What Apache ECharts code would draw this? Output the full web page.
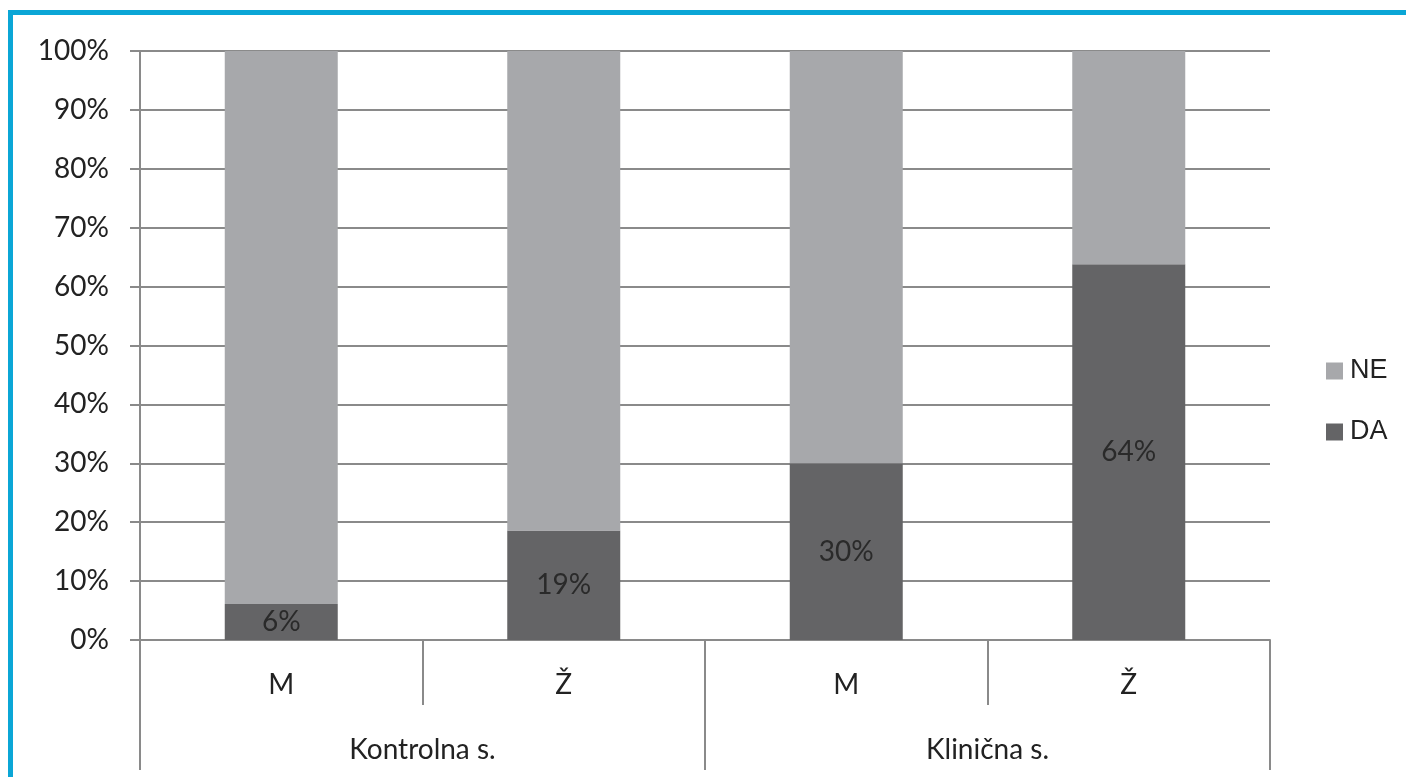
<!DOCTYPE html>
<html><head><meta charset="utf-8">
<script src="https://cdn.jsdelivr.net/npm/echarts@6/dist/echarts.min.js"></script>
<style>html,body{margin:0;padding:0;background:#fff}#c{width:1406px;height:777px}</style>
</head><body><div id="c"></div>
<script>
const subCategories = ['M', 'Ž', 'M', 'Ž'];
const groupCategories = ['Kontrolna s.', 'Klinična s.'];
const daValues = [6.1, 18.6, 30, 63.8];
const neValues = [93.9, 81.4, 70, 36.2];
const yTicks = [0, 10, 20, 30, 40, 50, 60, 70, 80, 90, 100];

const FONT = 'Lato';
const chart = echarts.init(document.getElementById('c'));
chart.setOption({
  animation: false,
  backgroundColor: '#fff',
  textStyle: { fontFamily: FONT },
  graphic: [
    { type: 'rect', shape: { x: 8, y: 10, width: 5, height: 767 }, style: { fill: '#0ba6d6' } },
    { type: 'rect', shape: { x: 8, y: 10, width: 1398, height: 5 }, style: { fill: '#0ba6d6' } }
  ],
  legend: {
    orient: 'vertical', left: 1321, top: 352, itemGap: 33,
    itemWidth: 17, itemHeight: 17, icon: 'rect',
    data: ['NE', 'DA'],
    textStyle: { fontFamily: 'Liberation Sans', fontSize: 27, lineHeight: 28, color: '#222', padding: [0, 0, 0, 2] }
  },
  grid: { left: 140, right: 136, top: 51, bottom: 137, containLabel: false },
  xAxis: [
    {
      type: 'category', data: subCategories, position: 'bottom',
      axisLine: { show: true, lineStyle: { color: '#8a8a8a', width: 2 } },
      axisTick: { show: true, length: 65, interval: 0, lineStyle: { color: '#8a8a8a', width: 2 } },
      axisLabel: { margin: 31, fontFamily: FONT, fontSize: 28, color: '#222' }
    },
    {
      type: 'category', data: groupCategories, position: 'bottom',
      axisLine: { show: false },
      axisTick: { show: true, length: 130, interval: 0, lineStyle: { color: '#8a8a8a', width: 2 } },
      axisLabel: { margin: 96, fontFamily: FONT, fontSize: 28, color: '#222' }
    }
  ],
  yAxis: {
    type: 'value', min: 0, max: 100, interval: 10,
    axisLine: { show: true, lineStyle: { color: '#8a8a8a', width: 2 } },
    axisTick: { show: true, length: 10, lineStyle: { color: '#8a8a8a', width: 2 } },
    axisLabel: { margin: 31, fontFamily: FONT, fontSize: 28, color: '#222',
      formatter: v => yTicks.includes(v) ? v + '%' : '' },
    splitLine: { show: true, lineStyle: { color: '#8a8a8a', width: 2 } }
  },
  series: [
    {
      name: 'DA', type: 'bar', stack: 's', xAxisIndex: 0, barWidth: '40%',
      data: daValues, itemStyle: { color: '#646466' },
      label: { show: true, position: 'inside', fontFamily: FONT, fontSize: 28, color: '#2a2a2a',
        formatter: p => Math.round(p.value) + '%' }
    },
    {
      name: 'NE', type: 'bar', stack: 's', xAxisIndex: 0, barWidth: '40%',
      data: neValues, itemStyle: { color: '#a7a8ab' }
    }
  ]
});
</script></body></html>
